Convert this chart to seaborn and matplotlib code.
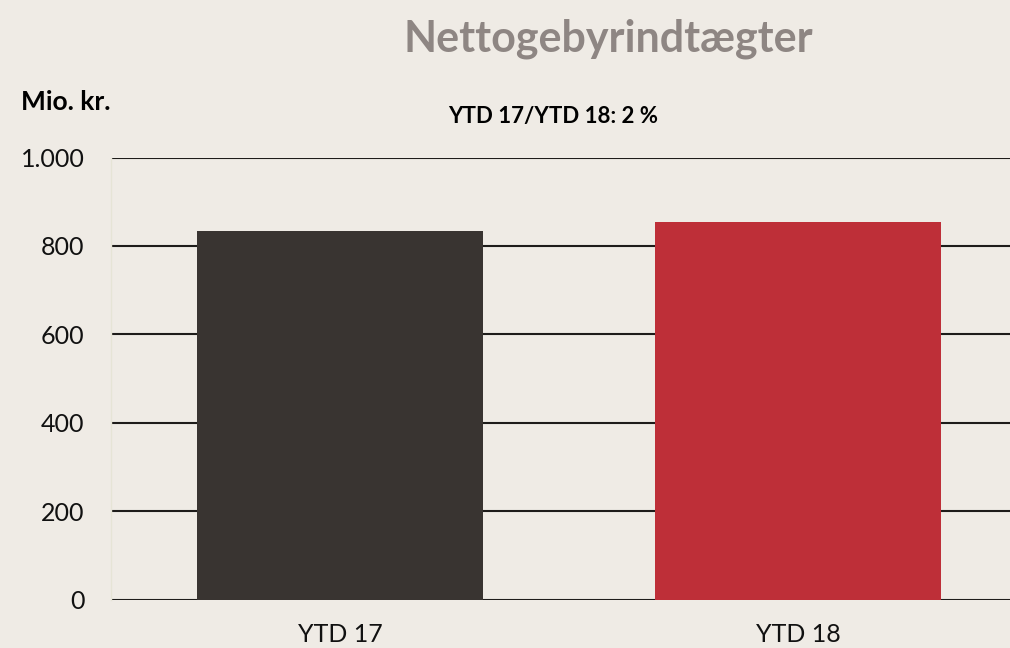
import pandas as pd
import seaborn as sns
import matplotlib.pyplot as plt
from matplotlib.ticker import FuncFormatter

periods = ["YTD 17", "YTD 18"]
values = [834, 854]
bar_colors = ["#393431", "#BE2F38"]
y_ticks = [0, 200, 400, 600, 800, 1000]

bg = "#EFEBE5"
df = pd.DataFrame({"period": periods, "value": values})

sns.set_theme(style="white")
plt.rcParams["font.family"] = ["Lato", "DejaVu Sans"]

fig = plt.figure(figsize=(10.1, 6.48), dpi=100, facecolor=bg)
ax = fig.add_axes([0.110, 0.0748, 0.890, 0.682], facecolor=bg)

sns.barplot(data=df, x="period", y="value", hue="period", palette=bar_colors,
            width=0.625, legend=False, saturation=1, edgecolor="none",
            linewidth=0, ax=ax, zorder=3)

ax.set_ylim(0, 1000)
ax.set_xlim(-0.5, 1.463)
ax.set_yticks(y_ticks)
ax.yaxis.set_major_formatter(FuncFormatter(lambda v, p: f"{int(v):,}".replace(",", ".")))
ax.grid(axis="y", color="#1E1C1A", linewidth=1.5, zorder=0)
ax.set_axisbelow(True)
ax.tick_params(axis="both", length=0, labelsize=18, labelcolor="#111111")
ax.tick_params(axis="x", pad=17)
ax.tick_params(axis="y", pad=19)
ax.set_xlabel("")
ax.set_ylabel("")
for side in ["top", "right", "bottom"]:
    ax.spines[side].set_visible(False)
ax.spines["left"].set_color("#E6E4D6")
ax.spines["left"].set_linewidth(1)

fig.text(0.602, 0.94, "Nettogebyrindtægter", ha="center", va="center",
         fontsize=31, fontweight="bold", color="#8E8683")
fig.text(0.021, 0.842, "Mio. kr.", ha="left", va="center",
         fontsize=19, fontweight="bold", color="black")
fig.text(0.548, 0.82, "YTD 17/YTD 18: 2 %", ha="center", va="center",
         fontsize=16, fontweight="bold", color="black")

plt.savefig("out.png", dpi=100, facecolor=bg)
plt.close()
